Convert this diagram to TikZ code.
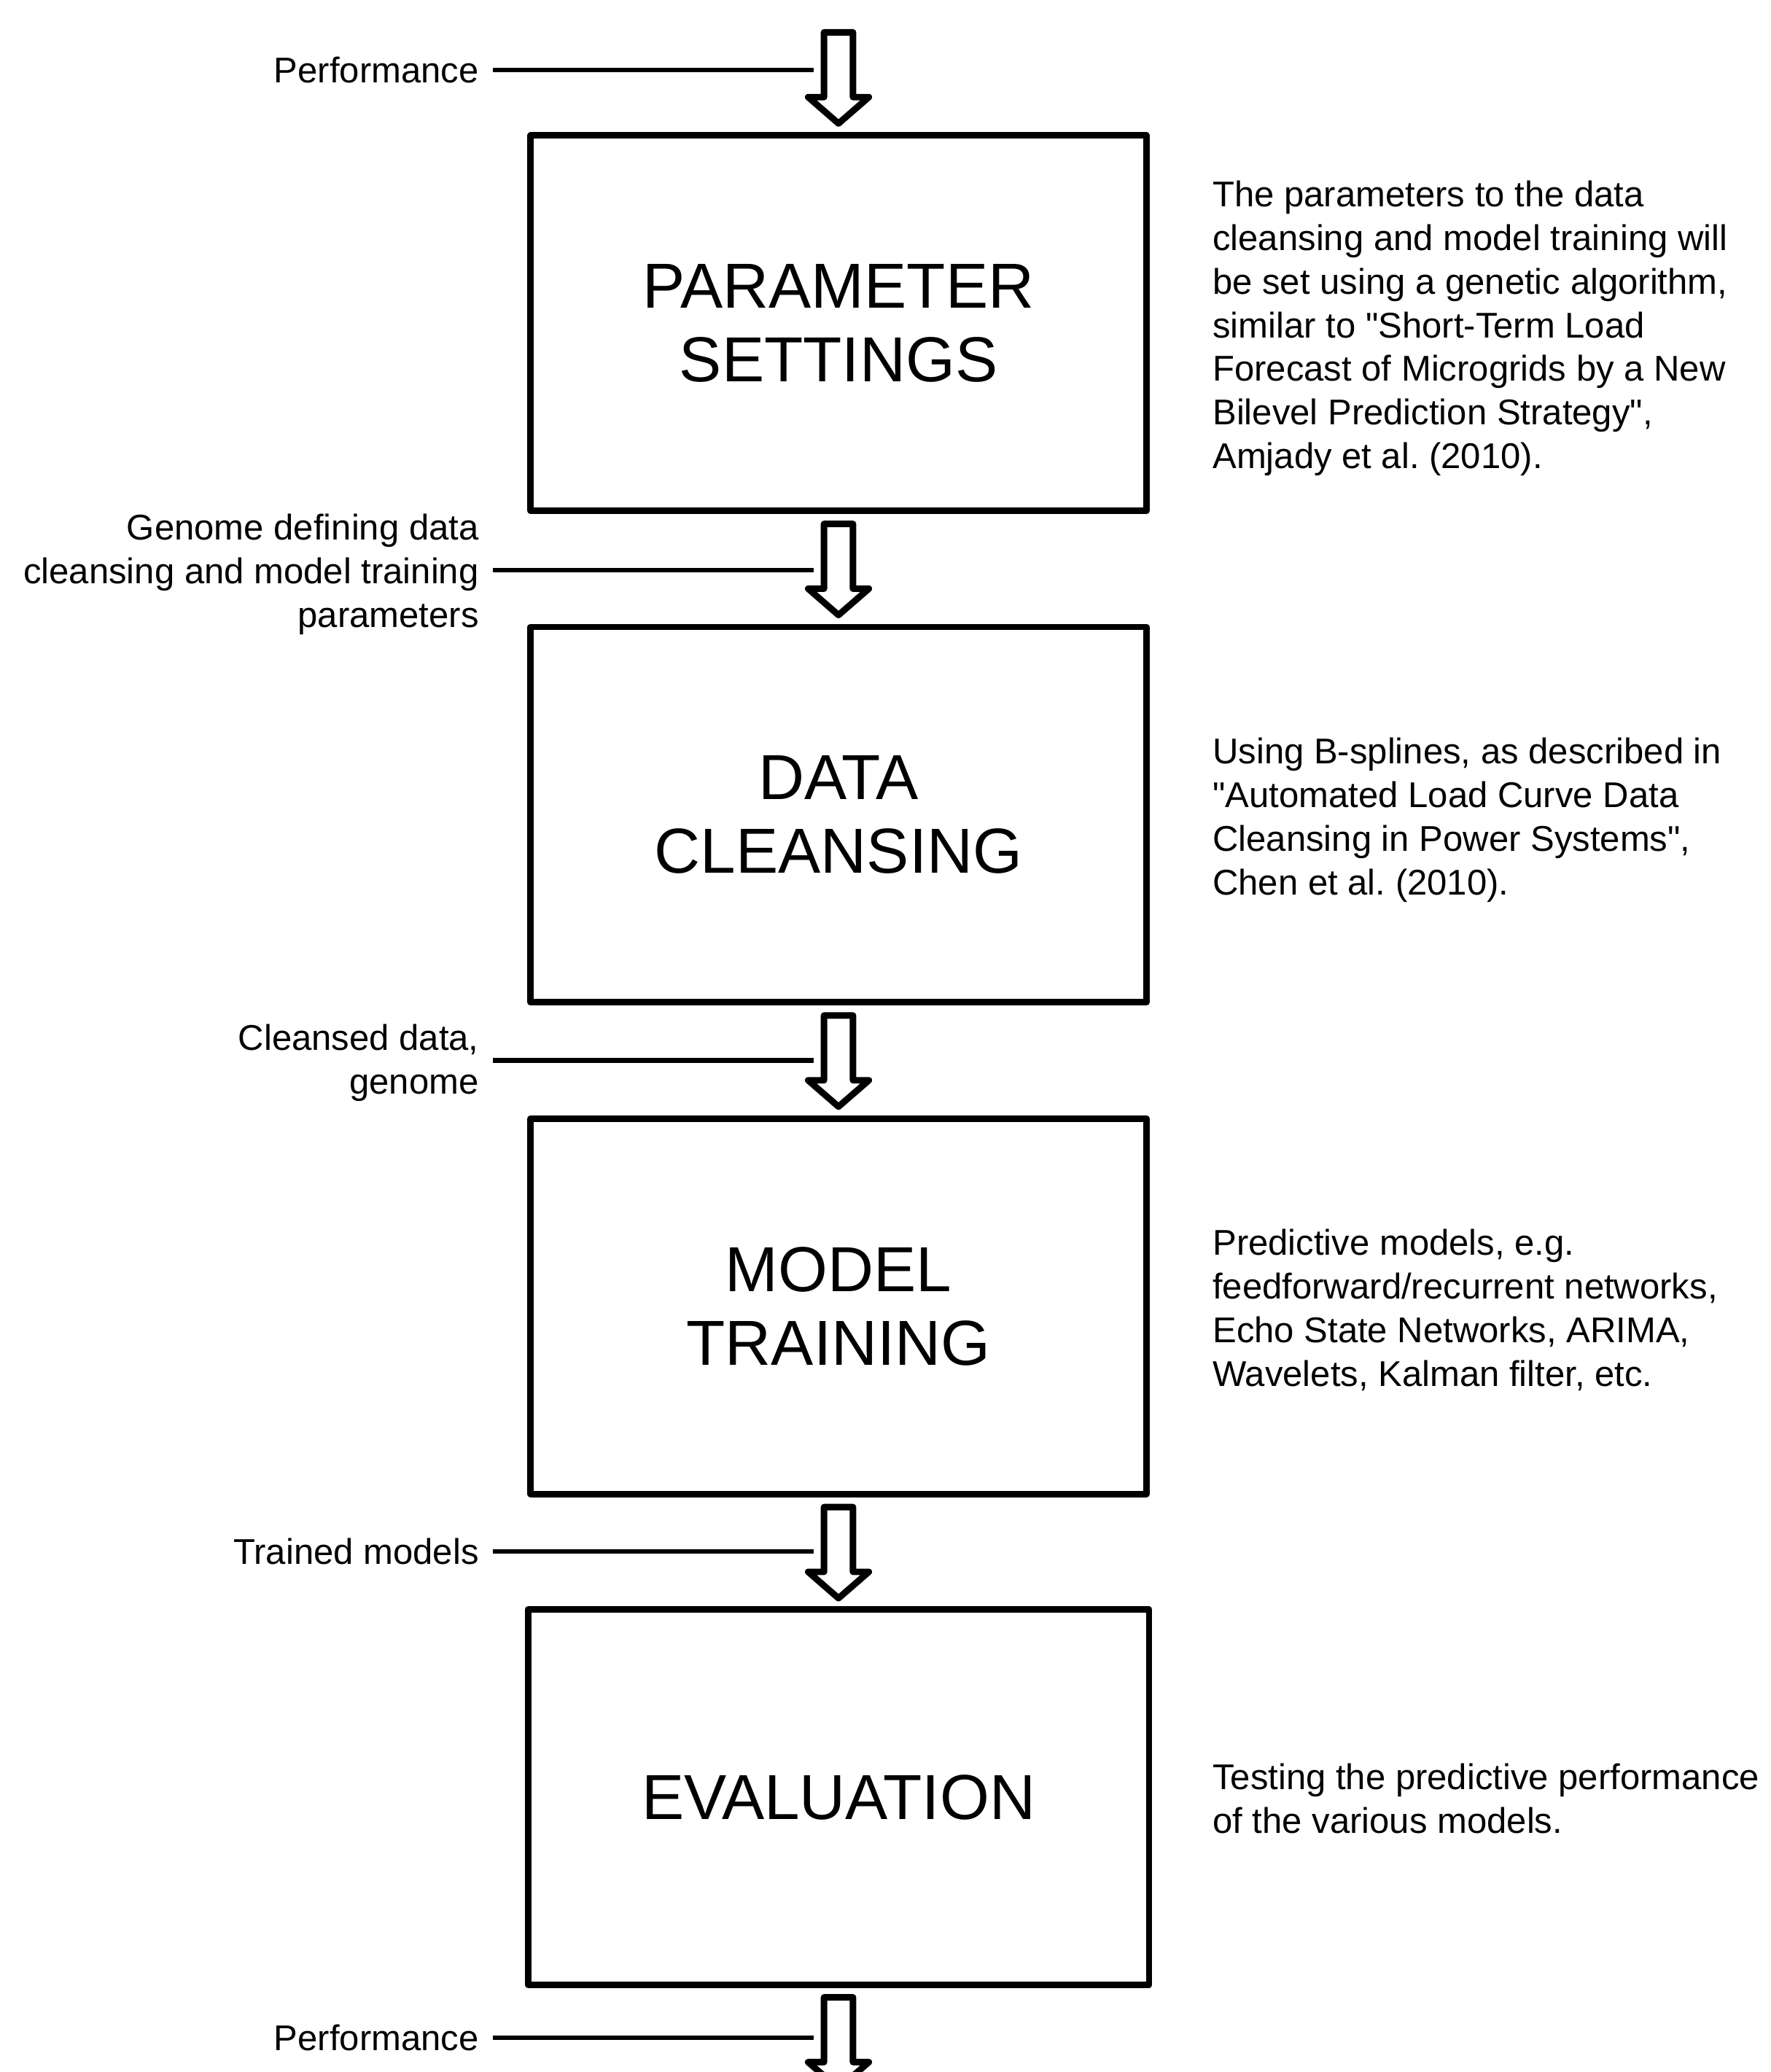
\documentclass[tikz,border=0pt]{standalone}
\usepackage{fontspec}
\setmainfont{Liberation Sans}[Ligatures=TeXOff]
\usetikzlibrary{positioning,shapes.arrows}
\frenchspacing

\begin{document}
\begin{tikzpicture}[
          stage/.style={rectangle, draw=black, line width=1.4pt, line join=round,
              minimum width=4.66cm, minimum height=2.84cm, inner sep=0pt,
              align=center, font=\fontsize{13.7}{15.9}\selectfont},
          note/.style={anchor=west, align=left, inner sep=0pt, yshift=-0.04cm,
              font=\fontsize{7.7}{9.4}\selectfont},
          inlbl/.style={anchor=east, align=right, inner sep=0pt,
              font=\fontsize{7.7}{9.4}\selectfont},
          hollow/.style={single arrow, draw=black, fill=white, line width=1.4pt,
              line join=round, shape border rotate=270, inner sep=0.085cm,
              minimum height=0.69cm, minimum width=0.41cm,
              single arrow head extend=0.12cm, single arrow tip angle=98,
              anchor=tail},
          feed/.style={line width=1pt, shorten <=0.1cm, shorten >=0.19cm}
      ]
      \useasboundingbox (0,0) rectangle (13.40,-15.68);
      \clip (0,0) rectangle (13.40,-15.68);
      \fill[white] (0,0) rectangle (13.40,-15.68);
      \node[stage] (param) at (6.345,-2.445) {PARAMETER\\SETTINGS};
      \node[stage] (clean) at (6.345,-6.165) {DATA\\CLEANSING};
      \node[stage] (train) at (6.345,-9.885) {MODEL\\TRAINING};
      \node[stage, minimum width=4.70cm] (eval) at (6.345,-13.60) {EVALUATION};
      \node[hollow] (a0) at (6.345,-0.22)  {};
      \node[hollow] (a1) at (6.345,-3.94)  {};
      \node[hollow] (a2) at (6.345,-7.66)  {};
      \node[hollow] (a3) at (6.345,-11.38) {};
      \node[hollow] (a4) at (6.345,-15.09) {};
      \node[inlbl] (perfin)   at (3.63,-0.53)   {Performance};
      \node[inlbl] (genome)   at (3.63,-4.345)  {Genome defining data\\cleansing and model training\\parameters};
      \node[inlbl] (cleansed) at (3.63,-8.045)  {Cleansed data,\\genome};
      \node[inlbl] (trained)  at (3.63,-11.74)  {Trained models};
      \node[inlbl] (perfout)  at (3.63,-15.42)  {Performance};
      \draw[feed] (perfin.east) -- (perfin.east -| a0.center);
      \draw[feed] ([yshift=0.03cm]genome.east) -- ([yshift=0.03cm]genome.east -| a1.center);
      \draw[feed] ([yshift=0.02cm]cleansed.east) -- ([yshift=0.02cm]cleansed.east -| a2.center);
      \draw[feed] (trained.east) -- (trained.east -| a3.center);
      \draw[feed] (perfout.east) -- (perfout.east -| a4.center);
      \node[note, right=0.47cm of param] (paramnote) {The parameters to the data\\cleansing and model training will\\be set using a genetic algorithm,\\similar to "Short-Term Load\\Forecast of Microgrids by a New\\Bilevel Prediction Strategy",\\Amjady et al. (2010).};
      \node[note, right=0.47cm of clean] (cleannote) {Using B-splines, as described in\\"Automated Load Curve Data\\Cleansing in Power Systems",\\Chen et al. (2010).};
      \node[note, right=0.47cm of train, yshift=0.01cm] (trainnote) {Predictive models, e.g.\\feedforward/recurrent networks,\\Echo State Networks, ARIMA,\\Wavelets, Kalman filter, etc.};
      \node[note, right=0.45cm of eval, yshift=0.03cm] (evalnote) {Testing the predictive performance\\of the various models.};
      \end{tikzpicture}
\end{document}
